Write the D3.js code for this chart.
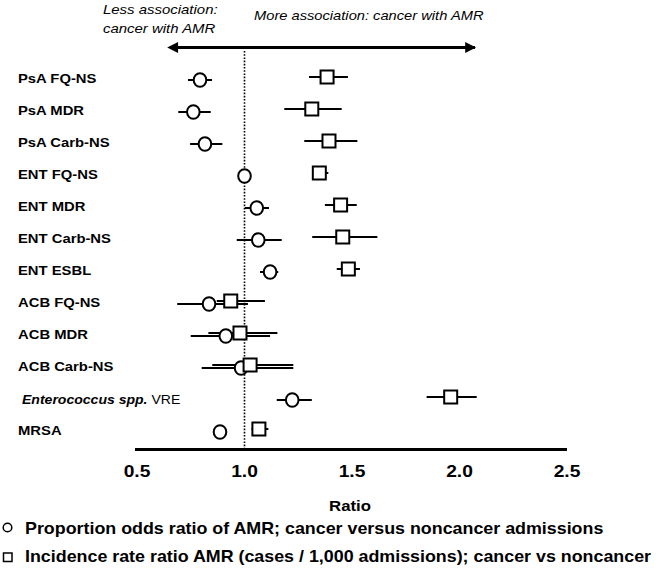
<!DOCTYPE html>
<html>
<head>
<meta charset="utf-8">
<script src="https://cdn.jsdelivr.net/npm/d3@7"></script>
<style>
  html, body { margin: 0; padding: 0; background: #fff; }
  svg { display: block; }
  text { font-family: "Liberation Sans", Arial, Helvetica, sans-serif; fill: #000; }
</style>
</head>
<body>
<svg id="chart" width="661" height="574"></svg>
<script>
// ---------------- DATA ----------------
const categories = ["PsA FQ-NS","PsA MDR","PsA Carb-NS","ENT FQ-NS","ENT MDR","ENT Carb-NS",
  "ENT ESBL","ACB FQ-NS","ACB MDR","ACB Carb-NS","Enterococcus spp. VRE","MRSA"];

// Proportion odds ratio (circles)
const porValue = [0.793, 0.762, 0.816, 1.000, 1.057, 1.064, 1.119, 0.835, 0.913, 0.984, 1.222, 0.886];
const porLow   = [0.737, 0.692, 0.747, 0.985, 1.002, 0.964, 1.072, 0.687, 0.750, 0.801, 1.150, 0.855];
const porHigh  = [0.849, 0.843, 0.897, 1.012, 1.114, 1.173, 1.157, 1.016, 1.119, 1.227, 1.313, 0.917];

// Incidence rate ratio (squares)
const irrValue = [1.384, 1.313, 1.393, 1.348, 1.447, 1.457, 1.483, 0.936, 0.979, 1.026, 1.959, 1.067];
const irrLow   = [1.300, 1.185, 1.278, 1.320, 1.374, 1.315, 1.429, 0.871, 0.832, 0.850, 1.847, 1.033];
const irrHigh  = [1.481, 1.452, 1.525, 1.390, 1.522, 1.618, 1.537, 1.095, 1.153, 1.227, 2.080, 1.111];

const tickValues = [0.5, 1.0, 1.5, 2.0, 2.5];
const tickLabels = ["0.5", "1.0", "1.5", "2.0", "2.5"];
const axisTitle = "Ratio";
const referenceValue = 1.0;
const arrowExtent = [0.686, 2.072];
const topLeftText = ["Less association:", "cancer with AMR"];
const topRightText = "More association: cancer with AMR";
const legendTexts = [
  "Proportion odds ratio of AMR; cancer versus noncancer admissions",
  "Incidence rate ratio AMR (cases / 1,000 admissions); cancer vs noncancer"
];

// ---------------- CHART ----------------
const svg = d3.select("#chart");
svg.append("rect").attr("width", 661).attr("height", 574).attr("fill", "#fff");

const x = d3.scaleLinear().domain([0.5, 2.5]).range([137, 567]);
const y = d3.scalePoint().domain(categories).range([78.5, 430.5]);

const circOff = 1.5, sqOff = -1.5;

function stext(parent, tx, ty, sx) {
  return parent.append("text")
    .attr("transform", `translate(${tx},${ty}) scale(${sx},1)`);
}

// Top annotations
const t1 = stext(svg, 103, 13.5, 1.15).attr("font-size", 13).attr("font-style", "italic").text(topLeftText[0]);
stext(svg, 103, 33, 1.15).attr("font-size", 13).attr("font-style", "italic").text(topLeftText[1]);
stext(svg, 254, 19.5, 1.13).attr("font-size", 13).attr("font-style", "italic").text(topRightText);

// Double-headed arrow
const defs = svg.append("defs");
["start", "end"].forEach(k => {
  defs.append("marker")
    .attr("id", "arrow-" + k)
    .attr("viewBox", "0 0 10 10")
    .attr("refX", k === "end" ? 9 : 1).attr("refY", 5)
    .attr("markerWidth", 4.2).attr("markerHeight", 3.4)
    .attr("markerUnits", "strokeWidth")
    .attr("orient", "auto-start-reverse")
    .append("path").attr("d", "M0,0 L10,5 L0,10 Z").attr("fill", "#000");
});
svg.append("line")
  .attr("x1", x(arrowExtent[0])).attr("x2", x(arrowExtent[1]))
  .attr("y1", 47.5).attr("y2", 47.5)
  .attr("stroke", "#000").attr("stroke-width", 3.2)
  .attr("marker-start", "url(#arrow-start)")
  .attr("marker-end", "url(#arrow-end)");

// Reference dotted line
svg.append("line")
  .attr("x1", x(referenceValue)).attr("x2", x(referenceValue))
  .attr("y1", 51).attr("y2", 448)
  .attr("stroke", "#000").attr("stroke-width", 1.6)
  .attr("stroke-dasharray", "1.6,1.6");

// Row labels
categories.forEach((c, i) => {
  if (c.startsWith("Enterococcus")) {
    const t = stext(svg, 22, y(c) + 5, 1.17).attr("font-size", 12);
    t.append("tspan").attr("font-style", "italic").attr("font-weight", "bold").text("Enterococcus spp.");
    t.append("tspan").text(" VRE");
  } else {
    stext(svg, 18, y(c) + 4, 1.14).attr("font-size", 13).attr("font-weight", "bold").text(c);
  }
});

// CI lines
const g = svg.append("g");
g.selectAll("line.por").data(categories).join("line")
  .attr("class", "por")
  .attr("x1", (d, i) => x(porLow[i])).attr("x2", (d, i) => x(porHigh[i]))
  .attr("y1", d => y(d) + circOff).attr("y2", d => y(d) + circOff)
  .attr("stroke", "#000").attr("stroke-width", 2);
g.selectAll("line.irr").data(categories).join("line")
  .attr("class", "irr")
  .attr("x1", (d, i) => x(irrLow[i])).attr("x2", (d, i) => x(irrHigh[i]))
  .attr("y1", d => y(d) + sqOff).attr("y2", d => y(d) + sqOff)
  .attr("stroke", "#000").attr("stroke-width", 2);

// Circles
g.selectAll("ellipse.por").data(categories).join("ellipse")
  .attr("class", "por")
  .attr("cx", (d, i) => x(porValue[i])).attr("cy", d => y(d) + circOff)
  .attr("rx", 6.3).attr("ry", 6.8)
  .attr("fill", "#fff").attr("stroke", "#000").attr("stroke-width", 2);

// Squares
const sq = 13;
g.selectAll("rect.irr").data(categories).join("rect")
  .attr("class", "irr")
  .attr("x", (d, i) => x(irrValue[i]) - sq / 2).attr("y", d => y(d) + sqOff - sq / 2)
  .attr("width", sq).attr("height", sq)
  .attr("fill", "#fff").attr("stroke", "#000").attr("stroke-width", 2);

// X axis
const axisY = 449.5;
svg.append("line")
  .attr("x1", x(0.5) - 2).attr("x2", x(2.5))
  .attr("y1", axisY).attr("y2", axisY)
  .attr("stroke", "#000").attr("stroke-width", 3.2);
tickValues.forEach((v, i) => {
  stext(svg, x(v), 477, 1.2).attr("font-size", 16).attr("font-weight", "bold")
    .attr("text-anchor", "middle").text(tickLabels[i]);
});
stext(svg, x(1.5) - 2, 511, 1.12).attr("font-size", 15).attr("font-weight", "bold")
  .attr("text-anchor", "middle").text(axisTitle);

// Legend
svg.append("circle").attr("cx", 7.5).attr("cy", 527.5).attr("r", 4.3)
  .attr("fill", "#fff").attr("stroke", "#000").attr("stroke-width", 1.5);
stext(svg, 25, 533.5, 1.05).attr("font-size", 17).attr("font-weight", "bold").text(legendTexts[0]);
svg.append("rect").attr("x", 3.5).attr("y", 553).attr("width", 8.5).attr("height", 8.5)
  .attr("fill", "#fff").attr("stroke", "#000").attr("stroke-width", 1.5);
stext(svg, 25, 562, 1.05).attr("font-size", 17).attr("font-weight", "bold").text(legendTexts[1]);
</script>
</body>
</html>
